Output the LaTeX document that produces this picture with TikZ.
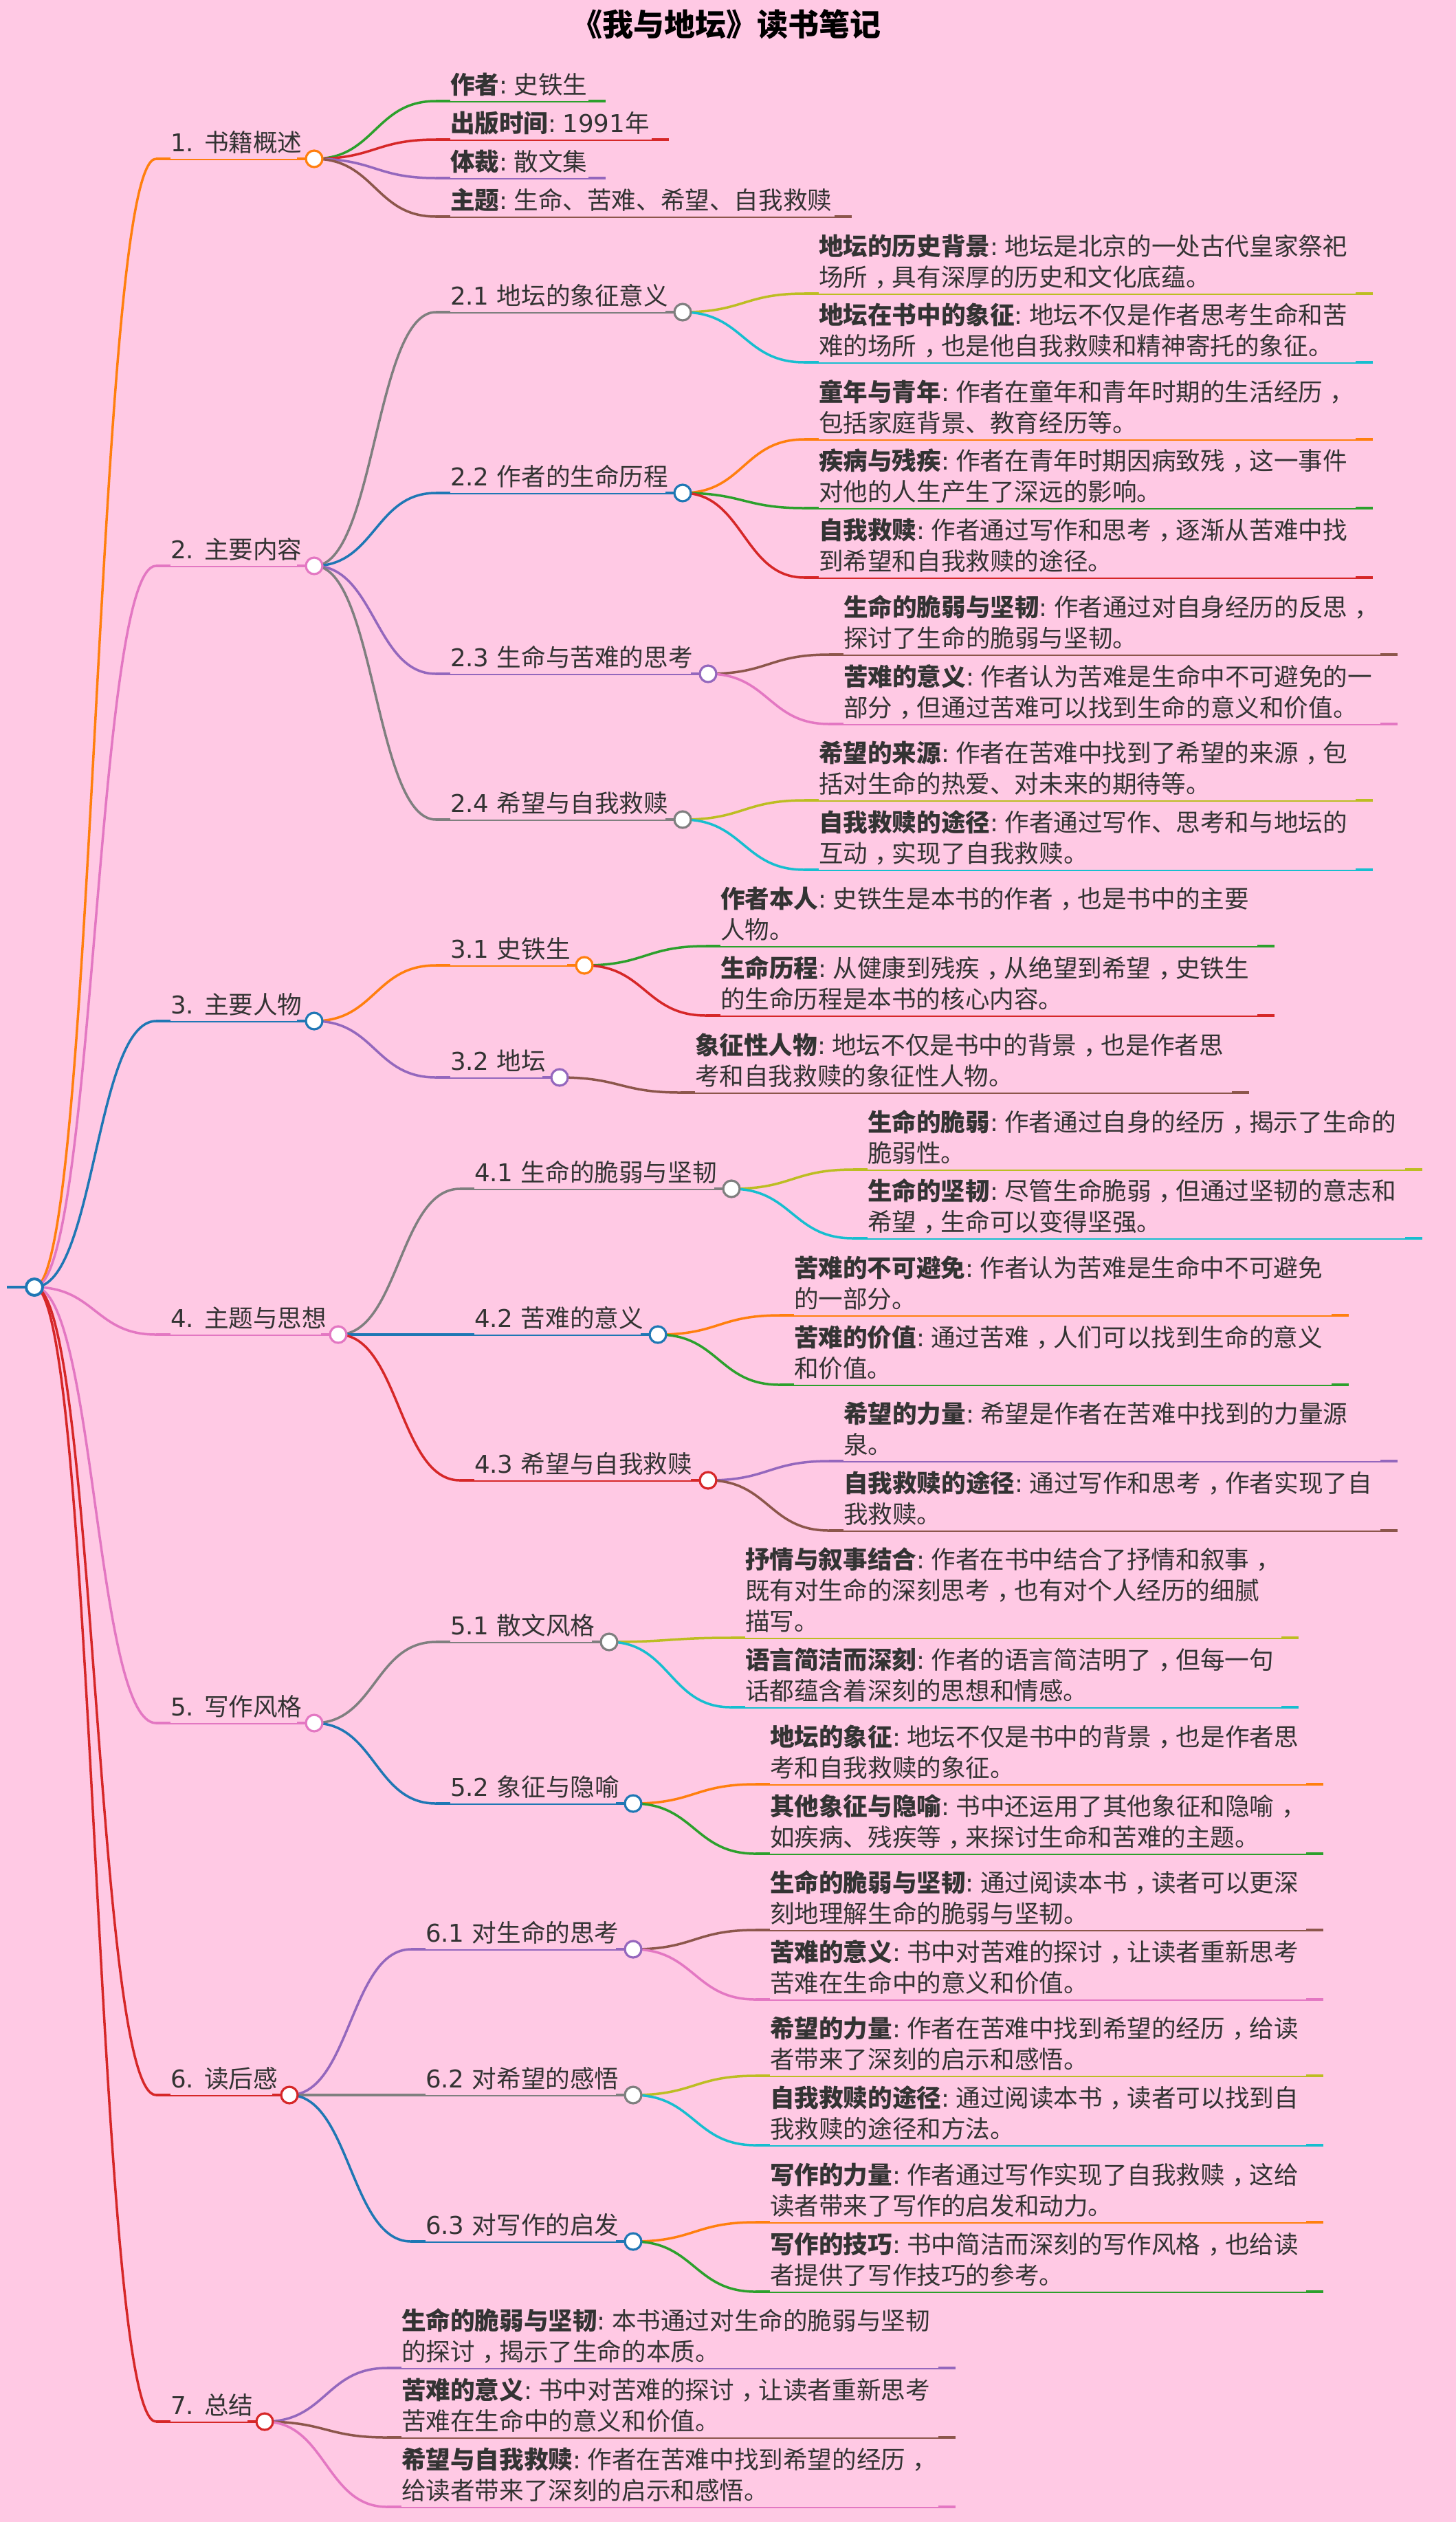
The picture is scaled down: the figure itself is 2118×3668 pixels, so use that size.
\documentclass[tikz,border=0pt]{standalone}
\usepackage{fontspec}
\setmainfont{Noto Sans CJK SC}
\newfontfamily\latf{DejaVu Sans}
\usetikzlibrary{calc}
\pgfdeclarelayer{back}
\pgfsetlayers{back,main}
\definecolor{bgpink}{HTML}{FFC9E4}
\definecolor{txt}{HTML}{333333}
\definecolor{corange}{HTML}{FF7F0E}
\definecolor{cgreen}{HTML}{2CA02C}
\definecolor{cred}{HTML}{D62728}
\definecolor{cpurple}{HTML}{9467BD}
\definecolor{cbrown}{HTML}{8C564B}
\definecolor{cpink}{HTML}{E377C2}
\definecolor{cgrey}{HTML}{7F7F7F}
\definecolor{colive}{HTML}{BCBD22}
\definecolor{ccyan}{HTML}{17BECF}
\definecolor{cblue}{HTML}{1F77B4}
\newcommand{\lat}[1]{{\latf #1}}
\newcommand{\B}[1]{\textbf{#1}\lat{:}\hspace{.26em}}
\newcommand{\tailrule}{\rule[-3pt]{0pt}{3pt}}
\catcode`，=\active
\def，{\kern.3em\char"FF0C\kern-.3em}
\tikzset{
  link/.style={line width=1.75pt},
  under/.style={line width=1.2pt},
  stub/.style={line width=2.1pt},
  lbl/.style={inner sep=0pt,outer sep=0pt,text=txt,align=left,font=\fontsize{17.8}{22.5}\selectfont},
  dot/.style={circle,fill=white,line width=1.6pt,minimum size=12pt,inner sep=0pt,outer sep=0pt},
  titlelbl/.style={inner sep=0pt,text=black,font=\fontsize{22.5}{26}\selectfont\bfseries}
}
% parent, name, colour, text x, underline y, end x, text
\newcommand{\leaf}[7]{%
  \coordinate (#2s) at ({#4-21},#5);
  \coordinate (#2m) at (#4,#5);
  \coordinate (#2e) at (#6,#5);
  \coordinate (#2r) at ({#6-25},#5);
  \begin{pgfonlayer}{back}
    \draw[link,#3] (#1.center) .. controls ($(#1.center)!.5!(#2s |- #1.center)$) and ($(#1.center |- #2s)!.5!(#2s)$) .. (#2s);
    \draw[under,#3] ([yshift=-.5pt]#2s) -- ([yshift=-.5pt]#2e);
    \draw[stub,#3] (#2s) -- (#2m);
    \draw[stub,#3] (#2r) -- (#2e);
  \end{pgfonlayer}
  \node[lbl,anchor=south west] (#2t) at (#4,{#5-5}) {#7\tailrule};
}
% parent, name, colour, text x, underline y, circle x, text
\newcommand{\branch}[7]{%
  \node[dot,draw=#3] (#2) at (#6,#5) {};
  \leaf{#1}{#2}{#3}{#4}{#5}{#6}{#7}
}
\begin{document}
\begin{tikzpicture}[x=0.5pt,y=-0.5pt]
\useasboundingbox (0,0) rectangle (2118,3668);
\begin{pgfonlayer}{back}
  \fill[bgpink] (0,0) rectangle (2118,3668);
\end{pgfonlayer}
\node[titlelbl] (title) at (1056,35) {《我与地坛》读书笔记};
% root
\node[dot,draw=cblue,line width=2pt] (root) at (50,1872) {};
\coordinate (rootstub) at (10,1872);
\begin{pgfonlayer}{back}
  \draw[link,cblue,line width=2.2pt] (rootstub) -- (root);
\end{pgfonlayer}
% 1
\branch{root}{a}{corange}{248}{231}{457}{\lat{1. }书籍概述}
\leaf{a}{aa}{cgreen}{655}{147}{881}{\B{作者}史铁生}
\leaf{a}{ab}{cred}{655}{203}{973}{\B{出版时间}\lat{1991}年}
\leaf{a}{ac}{cpurple}{655}{259}{881}{\B{体裁}散文集}
\leaf{a}{ad}{cbrown}{655}{315}{1239}{\B{主题}生命、苦难、希望、自我救赎}
% 2
\branch{root}{b}{cpink}{248}{823}{457}{\lat{2. }主要内容}
\branch{b}{ba}{cgrey}{655}{454}{993}{\lat{2.1 }地坛的象征意义}
\leaf{ba}{baa}{colive}{1191}{427}{1997}{\B{地坛的历史背景}地坛是北京的一处古代皇家祭祀\\场所，具有深厚的历史和文化底蕴。}
\leaf{ba}{bab}{ccyan}{1191}{527}{1997}{\B{地坛在书中的象征}地坛不仅是作者思考生命和苦\\难的场所，也是他自我救赎和精神寄托的象征。}
\branch{b}{bb}{cblue}{655}{717}{993}{\lat{2.2 }作者的生命历程}
\leaf{bb}{bba}{corange}{1191}{639}{1997}{\B{童年与青年}作者在童年和青年时期的生活经历，\\包括家庭背景、教育经历等。}
\leaf{bb}{bbb}{cgreen}{1191}{739}{1997}{\B{疾病与残疾}作者在青年时期因病致残，这一事件\\对他的人生产生了深远的影响。}
\leaf{bb}{bbc}{cred}{1191}{840}{1997}{\B{自我救赎}作者通过写作和思考，逐渐从苦难中找\\到希望和自我救赎的途径。}
\branch{b}{bc}{cpurple}{655}{980}{1030}{\lat{2.3 }生命与苦难的思考}
\leaf{bc}{bca}{cbrown}{1227}{952}{2033}{\B{生命的脆弱与坚韧}作者通过对自身经历的反思，\\探讨了生命的脆弱与坚韧。}
\leaf{bc}{bcb}{cpink}{1227}{1053}{2033}{\B{苦难的意义}作者认为苦难是生命中不可避免的一\\部分，但通过苦难可以找到生命的意义和价值。}
\branch{b}{bd}{cgrey}{655}{1192}{993}{\lat{2.4 }希望与自我救赎}
\leaf{bd}{bda}{colive}{1191}{1164}{1997}{\B{希望的来源}作者在苦难中找到了希望的来源，包\\括对生命的热爱、对未来的期待等。}
\leaf{bd}{bdb}{ccyan}{1191}{1265}{1997}{\B{自我救赎的途径}作者通过写作、思考和与地坛的\\互动，实现了自我救赎。}
% 3
\branch{root}{c}{cblue}{248}{1485}{457}{\lat{3. }主要人物}
\branch{c}{ca}{corange}{655}{1404}{850}{\lat{3.1 }史铁生}
\leaf{ca}{caa}{cgreen}{1048}{1376}{1854}{\B{作者本人}史铁生是本书的作者，也是书中的主要\\人物。}
\leaf{ca}{cab}{cred}{1048}{1477}{1854}{\B{生命历程}从健康到残疾，从绝望到希望，史铁生\\的生命历程是本书的核心内容。}
\branch{c}{cb}{cpurple}{655}{1567}{814}{\lat{3.2 }地坛}
\leaf{cb}{cba}{cbrown}{1011}{1589}{1817}{\B{象征性人物}地坛不仅是书中的背景，也是作者思\\考和自我救赎的象征性人物。}
% 4
\branch{root}{d}{cpink}{248}{1941}{492}{\lat{4. }主题与思想}
\branch{d}{da}{cgrey}{690}{1729}{1064}{\lat{4.1 }生命的脆弱与坚韧}
\leaf{da}{daa}{colive}{1262}{1701}{2069}{\B{生命的脆弱}作者通过自身的经历，揭示了生命的\\脆弱性。}
\leaf{da}{dab}{ccyan}{1262}{1801}{2069}{\B{生命的坚韧}尽管生命脆弱，但通过坚韧的意志和\\希望，生命可以变得坚强。}
\branch{d}{db}{cblue}{690}{1941}{957}{\lat{4.2 }苦难的意义}
\leaf{db}{dba}{corange}{1155}{1913}{1962}{\B{苦难的不可避免}作者认为苦难是生命中不可避免\\的一部分。}
\leaf{db}{dbb}{cgreen}{1155}{2014}{1962}{\B{苦难的价值}通过苦难，人们可以找到生命的意义\\和价值。}
\branch{d}{dc}{cred}{690}{2153}{1030}{\lat{4.3 }希望与自我救赎}
\leaf{dc}{dca}{cpurple}{1227}{2125}{2033}{\B{希望的力量}希望是作者在苦难中找到的力量源\\泉。}
\leaf{dc}{dcb}{cbrown}{1227}{2226}{2033}{\B{自我救赎的途径}通过写作和思考，作者实现了自\\我救赎。}
% 5
\branch{root}{e}{cpink}{248}{2506}{457}{\lat{5. }写作风格}
\branch{e}{ea}{cgrey}{655}{2388}{886}{\lat{5.1 }散文风格}
\leaf{ea}{eaa}{colive}{1084}{2382}{1889}{\B{抒情与叙事结合}作者在书中结合了抒情和叙事，\\既有对生命的深刻思考，也有对个人经历的细腻\\描写。}
\leaf{ea}{eab}{ccyan}{1084}{2483}{1889}{\B{语言简洁而深刻}作者的语言简洁明了，但每一句\\话都蕴含着深刻的思想和情感。}
\branch{e}{eb}{cblue}{655}{2623}{921}{\lat{5.2 }象征与隐喻}
\leaf{eb}{eba}{corange}{1120}{2595}{1925}{\B{地坛的象征}地坛不仅是书中的背景，也是作者思\\考和自我救赎的象征。}
\leaf{eb}{ebb}{cgreen}{1120}{2696}{1925}{\B{其他象征与隐喻}书中还运用了其他象征和隐喻，\\如疾病、残疾等，来探讨生命和苦难的主题。}
% 6
\branch{root}{f}{cred}{248}{3047}{421}{\lat{6. }读后感}
\branch{f}{fa}{cpurple}{619}{2835}{921}{\lat{6.1 }对生命的思考}
\leaf{fa}{faa}{cbrown}{1120}{2807}{1925}{\B{生命的脆弱与坚韧}通过阅读本书，读者可以更深\\刻地理解生命的脆弱与坚韧。}
\leaf{fa}{fab}{cpink}{1120}{2908}{1925}{\B{苦难的意义}书中对苦难的探讨，让读者重新思考\\苦难在生命中的意义和价值。}
\branch{f}{fb}{cgrey}{619}{3047}{921}{\lat{6.2 }对希望的感悟}
\leaf{fb}{fba}{colive}{1120}{3019}{1925}{\B{希望的力量}作者在苦难中找到希望的经历，给读\\者带来了深刻的启示和感悟。}
\leaf{fb}{fbb}{ccyan}{1120}{3120}{1925}{\B{自我救赎的途径}通过阅读本书，读者可以找到自\\我救赎的途径和方法。}
\branch{f}{fc}{cblue}{619}{3260}{921}{\lat{6.3 }对写作的启发}
\leaf{fc}{fca}{corange}{1120}{3232}{1925}{\B{写作的力量}作者通过写作实现了自我救赎，这给\\读者带来了写作的启发和动力。}
\leaf{fc}{fcb}{cgreen}{1120}{3333}{1925}{\B{写作的技巧}书中简洁而深刻的写作风格，也给读\\者提供了写作技巧的参考。}
% 7
\branch{root}{g}{cred}{248}{3522}{385}{\lat{7. }总结}
\leaf{g}{ga}{cpurple}{584}{3444}{1390}{\B{生命的脆弱与坚韧}本书通过对生命的脆弱与坚韧\\的探讨，揭示了生命的本质。}
\leaf{g}{gb}{cbrown}{584}{3545}{1390}{\B{苦难的意义}书中对苦难的探讨，让读者重新思考\\苦难在生命中的意义和价值。}
\leaf{g}{gc}{cpink}{584}{3646}{1390}{\B{希望与自我救赎}作者在苦难中找到希望的经历，\\给读者带来了深刻的启示和感悟。}
\end{tikzpicture}
\end{document}
